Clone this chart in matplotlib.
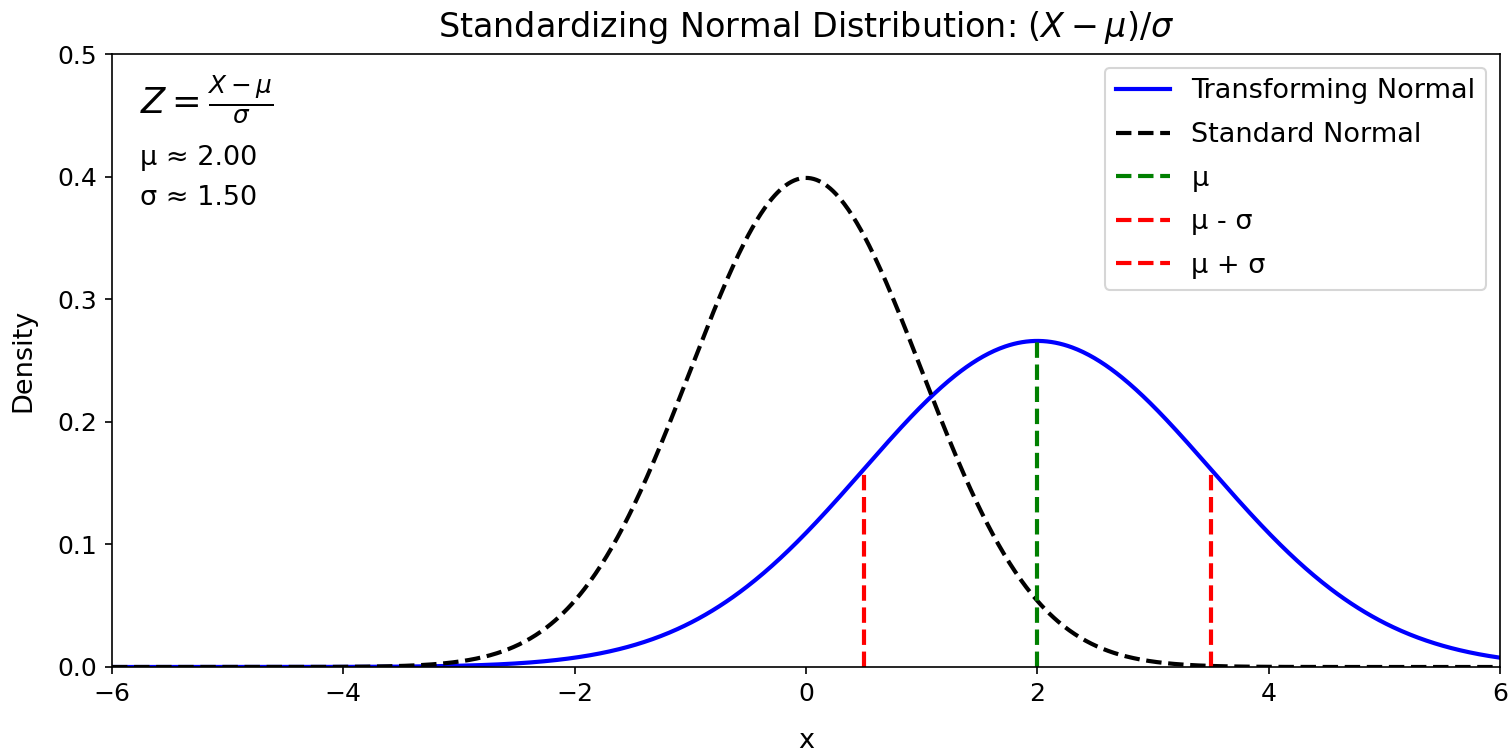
import numpy as np
import matplotlib
matplotlib.use("Agg")
import matplotlib.pyplot as plt

# parameters shown in the chart
mu = 2.00
sigma = 1.50
x_range = [-6, 6]
y_range = [0, 0.5]
x_ticks = [-6, -4, -2, 0, 2, 4, 6]
y_ticks = [0.0, 0.1, 0.2, 0.3, 0.4, 0.5]


def normal_pdf(x, m, s):
    return np.exp(-0.5 * ((x - m) / s) ** 2) / (s * np.sqrt(2 * np.pi))


x = np.linspace(x_range[0], x_range[1], 1000)
y_trans = normal_pdf(x, mu, sigma)
y_std = normal_pdf(x, 0.0, 1.0)

fig = plt.figure(figsize=(1510 / 150, 751 / 150), dpi=150)
ax = fig.add_axes([112 / 1510, 1 - 667 / 751, (1500 - 112) / 1510, (667 - 54) / 751])

ax.plot(x, y_trans, color="blue", lw=2, label="Transforming Normal")
ax.plot(x, y_std, color="black", lw=2, ls="--", label="Standard Normal")
ax.vlines(mu, 0, normal_pdf(mu, mu, sigma), colors="green", linestyles="--", lw=2, label="μ")
ax.vlines(mu - sigma, 0, normal_pdf(mu - sigma, mu, sigma), colors="red", linestyles="--", lw=2, label="μ - σ")
ax.vlines(mu + sigma, 0, normal_pdf(mu + sigma, mu, sigma), colors="red", linestyles="--", lw=2, label="μ + σ")

ax.set_xlim(*x_range)
ax.set_ylim(*y_range)
ax.set_xticks(x_ticks)
ax.set_yticks(y_ticks)
ax.tick_params(labelsize=12)
ax.set_title(r"Standardizing Normal Distribution: $(X - \mu)/\sigma$", fontsize=16, pad=8)
ax.set_xlabel("x", fontsize=13, labelpad=11)
ax.set_ylabel("Density", fontsize=13, labelpad=10)

ax.text(0.02, 0.926, r"$Z = \frac{X - \mu}{\sigma}$", transform=ax.transAxes,
        fontsize=17, va="center", ha="left")
ax.text(0.02, 0.830, f"μ ≈ {mu:.2f}", transform=ax.transAxes,
        fontsize=13, va="center", ha="left")
ax.text(0.02, 0.765, f"σ ≈ {sigma:.2f}", transform=ax.transAxes,
        fontsize=13, va="center", ha="left")

ax.legend(loc="upper right", fontsize=13, labelspacing=0.65)

fig.savefig("out.png", dpi=150)
